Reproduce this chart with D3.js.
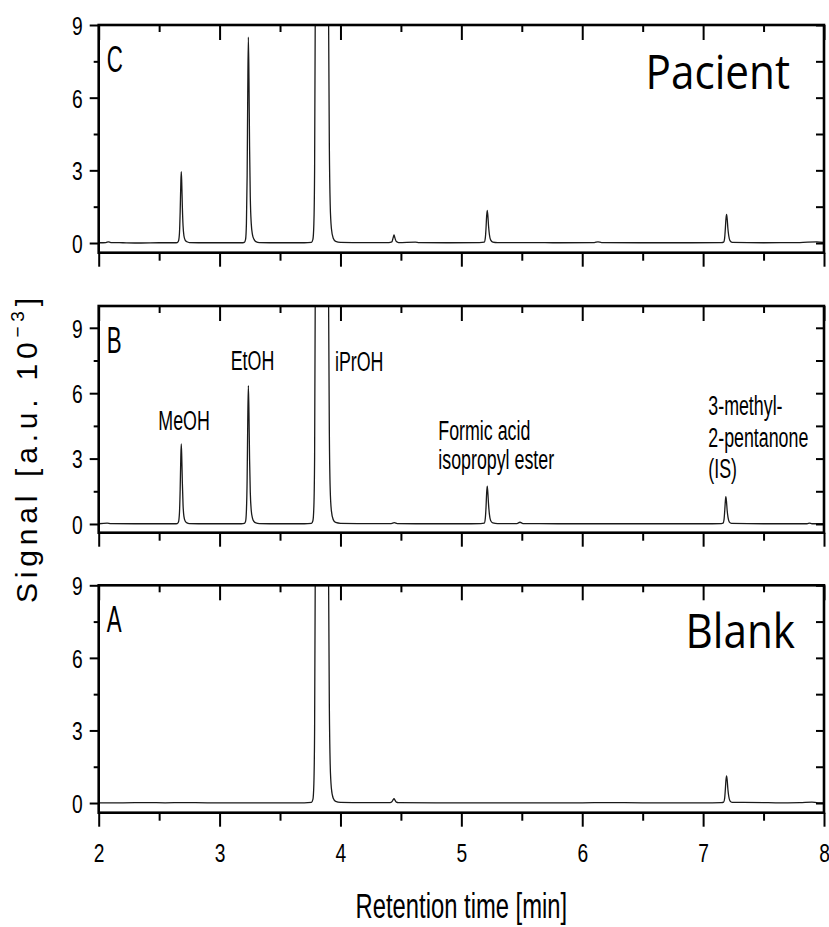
<!DOCTYPE html>
<html>
<head>
<meta charset="utf-8">
<script src="https://cdn.jsdelivr.net/npm/d3@7/dist/d3.min.js"></script>
<style>
  html, body { margin: 0; padding: 0; background: #fff; }
  svg { display: block; }
</style>
</head>
<body>
<svg id="chart" width="829" height="927"></svg>
<script>
// Headspace GC chromatograms: retention time [min] vs. detector signal [a.u. 10^-3]
const panelIds = ["C", "B", "A"];
const panelTitles = ["Pacient", "", "Blank"];
const xTickValues = [2, 3, 4, 5, 6, 7, 8];
const xMinorValues = [2.5, 3.5, 4.5, 5.5, 6.5, 7.5];
const yTickValues = [0, 3, 6, 9];
const yMinorValues = [1.5, 4.5, 7.5];
const yRightValues = [0, 1.5, 3, 4.5, 6, 7.5, 9];
const yMaxByPanel = [9, 10, 9];

// Patient sample trace [time, signal]
const traceC = [
  [2.00, 0.01], [2.06, 0.02], [2.08, 0.05], [2.10, 0.02], [2.20, 0.01], [2.35, 0.00], [2.50, 0.01], [2.63, 0.01],
  [2.650, 0.02], [2.660, 0.08], [2.668, 0.40], [2.674, 1.30], [2.679, 2.40], [2.683, 2.95], [2.687, 2.50],
  [2.692, 1.50], [2.698, 0.70], [2.705, 0.30], [2.715, 0.12], [2.730, 0.05], [2.750, 0.02],
  [2.90, 0.01], [3.05, 0.01], [3.18, 0.01],
  [3.205, 0.03], [3.215, 0.15], [3.222, 0.80], [3.228, 2.80], [3.233, 6.20], [3.238, 8.50], [3.243, 6.80],
  [3.248, 4.00], [3.254, 1.90], [3.262, 0.80], [3.272, 0.35], [3.285, 0.15], [3.300, 0.06], [3.330, 0.02],
  [3.50, 0.01], [3.70, 0.01], [3.760, 0.03],
  [3.772, 0.15], [3.780, 0.80], [3.786, 3.0], [3.791, 9.0], [3.797, 25], [3.810, 60], [3.850, 90], [3.890, 40],
  [3.897, 15], [3.902, 9.0], [3.908, 4.0], [3.915, 1.6], [3.925, 0.60], [3.940, 0.20], [3.960, 0.07], [4.000, 0.03],
  [4.20, 0.02], [4.40, 0.02],
  [4.425, 0.05], [4.435, 0.20], [4.443, 0.33], [4.451, 0.20], [4.462, 0.06], [4.480, 0.02],
  [4.62, 0.04], [4.65, 0.02], [4.90, 0.01], [5.15, 0.02],
  [5.190, 0.04], [5.198, 0.20], [5.204, 0.60], [5.209, 1.10], [5.214, 1.35], [5.219, 1.15], [5.225, 0.70],
  [5.232, 0.35], [5.242, 0.13], [5.260, 0.04], [5.300, 0.02],
  [5.50, 0.02], [5.80, 0.01], [6.10, 0.02], [6.13, 0.05], [6.16, 0.02], [6.50, 0.01], [6.90, 0.01], [7.15, 0.02],
  [7.170, 0.04], [7.178, 0.20], [7.184, 0.60], [7.189, 1.00], [7.194, 1.18], [7.199, 1.00], [7.205, 0.60],
  [7.212, 0.30], [7.222, 0.10], [7.240, 0.03],
  [7.50, 0.01], [7.80, 0.02], [7.94, 0.05], [8.00, 0.02]
];

// Spiked standard trace [time, signal]
const traceB = [
  [2.00, 0.01], [2.07, 0.04], [2.10, 0.02], [2.30, 0.01], [2.50, 0.01], [2.63, 0.01],
  [2.650, 0.02], [2.660, 0.09], [2.668, 0.50], [2.674, 1.60], [2.679, 3.00], [2.683, 3.67], [2.687, 3.10],
  [2.692, 1.90], [2.698, 0.85], [2.705, 0.35], [2.715, 0.14], [2.730, 0.05], [2.750, 0.02],
  [2.90, 0.01], [3.05, 0.01], [3.18, 0.01],
  [3.205, 0.03], [3.215, 0.12], [3.222, 0.62], [3.228, 2.10], [3.233, 4.70], [3.238, 6.35], [3.243, 5.10],
  [3.248, 3.00], [3.254, 1.45], [3.262, 0.62], [3.272, 0.27], [3.285, 0.11], [3.300, 0.05], [3.330, 0.02],
  [3.50, 0.01], [3.70, 0.01], [3.760, 0.03],
  [3.772, 0.15], [3.780, 0.80], [3.786, 3.0], [3.791, 10.0], [3.797, 27], [3.810, 60], [3.850, 90], [3.890, 40],
  [3.897, 16], [3.902, 10.0], [3.908, 4.2], [3.915, 1.6], [3.925, 0.60], [3.940, 0.20], [3.960, 0.07], [4.000, 0.03],
  [4.20, 0.02], [4.42, 0.02], [4.445, 0.06], [4.47, 0.02],
  [4.70, 0.01], [5.00, 0.01], [5.16, 0.02],
  [5.190, 0.04], [5.198, 0.25], [5.204, 0.75], [5.209, 1.40], [5.214, 1.74], [5.219, 1.45], [5.225, 0.90],
  [5.232, 0.45], [5.242, 0.16], [5.260, 0.05], [5.300, 0.02],
  [5.46, 0.02], [5.485, 0.08], [5.51, 0.02], [5.80, 0.01], [6.20, 0.01], [6.60, 0.01], [7.00, 0.01], [7.15, 0.02],
  [7.165, 0.04], [7.173, 0.20], [7.179, 0.62], [7.184, 1.05], [7.188, 1.25], [7.193, 1.05], [7.199, 0.62],
  [7.206, 0.30], [7.216, 0.10], [7.235, 0.03],
  [7.50, 0.01], [7.86, 0.01], [7.88, 0.04], [7.90, 0.01], [8.00, 0.01]
];

// Blank sample trace [time, signal]
const traceA = [
  [2.00, 0.01], [2.20, 0.01], [2.40, 0.02], [2.55, 0.01], [2.70, 0.02], [2.90, 0.01], [3.10, 0.01],
  [3.30, 0.01], [3.50, 0.01], [3.70, 0.01], [3.760, 0.03],
  [3.772, 0.15], [3.780, 0.80], [3.786, 3.0], [3.791, 9.0], [3.797, 25], [3.810, 60], [3.850, 90], [3.890, 40],
  [3.897, 15], [3.902, 9.0], [3.908, 4.0], [3.915, 1.6], [3.925, 0.60], [3.940, 0.20], [3.960, 0.07], [4.000, 0.03],
  [4.20, 0.02], [4.41, 0.02],
  [4.425, 0.05], [4.435, 0.13], [4.443, 0.18], [4.451, 0.12], [4.462, 0.04], [4.480, 0.02],
  [4.80, 0.01], [5.20, 0.01], [5.60, 0.01], [6.00, 0.01], [6.20, 0.02], [6.50, 0.01], [7.00, 0.01], [7.15, 0.02],
  [7.170, 0.04], [7.178, 0.19], [7.184, 0.57], [7.189, 0.95], [7.194, 1.12], [7.199, 0.95], [7.205, 0.57],
  [7.212, 0.28], [7.222, 0.09], [7.240, 0.03],
  [7.50, 0.02], [7.60, 0.01], [7.80, 0.02], [7.90, 0.04], [7.95, 0.01], [8.00, 0.01]
];

const traces = [traceC, traceB, traceA];

// Compound labels for the spiked standard (panel B)
const peakNames = [
  ["MeOH"],
  ["EtOH"],
  ["iPrOH"],
  ["Formic acid", "isopropyl ester"],
  ["3-methyl-", "2-pentanone", "(IS)"]
];

const xLabel = "Retention time [min]";

// ---------- layout ----------
const svg = d3.select("#chart");
const plotLeft = 98.7, plotRight = 824;
const panelBox = [
  { top: 25, bottom: 252.7 },
  { top: 306, bottom: 532.7 },
  { top: 585.3, bottom: 812.7 }
];
const narrowFont = "'Liberation Sans', Arial, sans-serif";
const titleFont = "'Open Sans', 'Noto Sans', sans-serif";
const ink = "#000";
const tickFontSize = 26, tickSqueeze = 0.74;

const x = d3.scaleLinear().domain([2, 8]).range([plotLeft, plotRight]);

// text squeezed horizontally, mimicking a condensed face
function squeezed(parent, px, py, str, size, sx, family, anchor) {
  return parent.append("text")
    .attr("transform", `translate(${px},${py}) scale(${sx},1)`)
    .attr("font-family", family)
    .attr("font-size", size)
    .attr("text-anchor", anchor || "start")
    .attr("fill", ink)
    .text(str);
}

function styleTicks(g, w) {
  g.select(".domain").remove();
  g.selectAll(".tick line").attr("stroke", ink).attr("stroke-width", w);
}

// name anchors in panel B: [x px, baseline px of first line, line gap]
const nameAnchors = [
  [158.3, 430, 0],
  [230.7, 370, 0],
  [335, 370.7, 0],
  [438.3, 440, 28.5],
  [708.3, 415, 31.5]
];

panelBox.forEach((box, i) => {
  const y = d3.scaleLinear().domain([-0.4, yMaxByPanel[i]]).range([box.bottom, box.top]);
  const g = svg.append("g");

  const clipId = "clip" + i;
  svg.append("defs").append("clipPath").attr("id", clipId)
    .append("rect").attr("x", plotLeft).attr("y", box.top)
    .attr("width", plotRight - plotLeft).attr("height", box.bottom - box.top);

  // chromatogram
  const line = d3.line().x(d => x(d[0])).y(d => y(d[1])).curve(d3.curveMonotoneX);
  g.append("path")
    .datum(traces[i])
    .attr("clip-path", `url(#${clipId})`)
    .attr("fill", "none")
    .attr("stroke", "#1a1a1a")
    .attr("stroke-width", 1.3)
    .attr("stroke-linejoin", "round")
    .attr("d", line);

  // left axis: majors with labels, minors without
  const left = g.append("g").attr("transform", `translate(${plotLeft},0)`)
    .call(d3.axisLeft(y).tickValues(yTickValues).tickSize(9).tickPadding(7).tickFormat(d3.format("d")));
  styleTicks(left, 2);
  left.selectAll(".tick text").each(function () {
    const t = d3.select(this);
    const xx = +t.attr("x");
    t.attr("x", xx / tickSqueeze).attr("transform", `scale(${tickSqueeze},1)`)
      .attr("font-family", narrowFont).attr("font-size", tickFontSize).attr("fill", ink).attr("dy", "0.36em");
  });
  const leftMinor = g.append("g").attr("transform", `translate(${plotLeft},0)`)
    .call(d3.axisLeft(y).tickValues(yMinorValues).tickSize(5).tickFormat(""));
  styleTicks(leftMinor, 2);

  // right axis: inward ticks
  const right = g.append("g").attr("transform", `translate(${plotRight},0)`)
    .call(d3.axisRight(y).tickValues(yRightValues).tickSize(-8).tickFormat(""));
  styleTicks(right, 2);

  // top axis: inward ticks
  const top = g.append("g").attr("transform", `translate(0,${box.top})`)
    .call(d3.axisTop(x).tickValues(xTickValues).tickSize(-15).tickFormat(""));
  styleTicks(top, 2);
  const topMinor = g.append("g").attr("transform", `translate(0,${box.top})`)
    .call(d3.axisTop(x).tickValues(xMinorValues).tickSize(-7).tickFormat(""));
  styleTicks(topMinor, 2);

  // bottom axis: outward ticks, labels only on the lowest panel
  const bottom = g.append("g").attr("transform", `translate(0,${box.bottom})`)
    .call(d3.axisBottom(x).tickValues(xTickValues).tickSize(14).tickPadding(17)
      .tickFormat(i === panelBox.length - 1 ? d3.format("d") : ""));
  styleTicks(bottom, 2);
  bottom.selectAll(".tick text").each(function () {
    d3.select(this).attr("transform", `scale(${tickSqueeze},1)`)
      .attr("font-family", narrowFont).attr("font-size", tickFontSize).attr("fill", ink).attr("dy", "0.72em");
  });
  const bottomMinor = g.append("g").attr("transform", `translate(0,${box.bottom})`)
    .call(d3.axisBottom(x).tickValues(xMinorValues).tickSize(8).tickFormat(""));
  styleTicks(bottomMinor, 2);

  // frame
  g.append("rect")
    .attr("x", plotLeft).attr("y", box.top)
    .attr("width", plotRight - plotLeft).attr("height", box.bottom - box.top)
    .attr("fill", "none").attr("stroke", ink).attr("stroke-width", 2.6);

  // panel letter
  squeezed(g, plotLeft + 8, box.top + 47, panelIds[i], 36, 0.62, narrowFont);

  // sample title
  if (panelTitles[i]) {
    squeezed(g, 790 + (i === 2 ? 5 : 0), box.top + (i === 2 ? 63 : 64), panelTitles[i], 48, 0.88, titleFont, "end");
  }

  // compound names in the spiked standard
  if (i === 1) {
    peakNames.forEach((lines, k) => {
      const [ax, ay, gap] = nameAnchors[k];
      lines.forEach((s, j) => squeezed(g, ax, ay + j * gap, s, 27, 0.66, narrowFont));
    });
  }
});

// x axis title
squeezed(svg, (plotLeft + plotRight) / 2, 918, xLabel, 35, 0.68, narrowFont, "middle");

// y axis title, rotated
const yt = svg.append("text")
  .attr("transform", "translate(37,603) rotate(-90)")
  .attr("font-family", narrowFont)
  .attr("font-size", 30)
  .attr("textLength", 305)
  .attr("lengthAdjust", "spacing")
  .attr("fill", ink);
yt.append("tspan").text("Signal");
yt.append("tspan").attr("dx", 14).text("[a.u.");
yt.append("tspan").attr("dx", 14).text("10");
yt.append("tspan").attr("font-size", 19).attr("dy", -13).text("−3");
yt.append("tspan").attr("dy", 13).text("]");
</script>
</body>
</html>
